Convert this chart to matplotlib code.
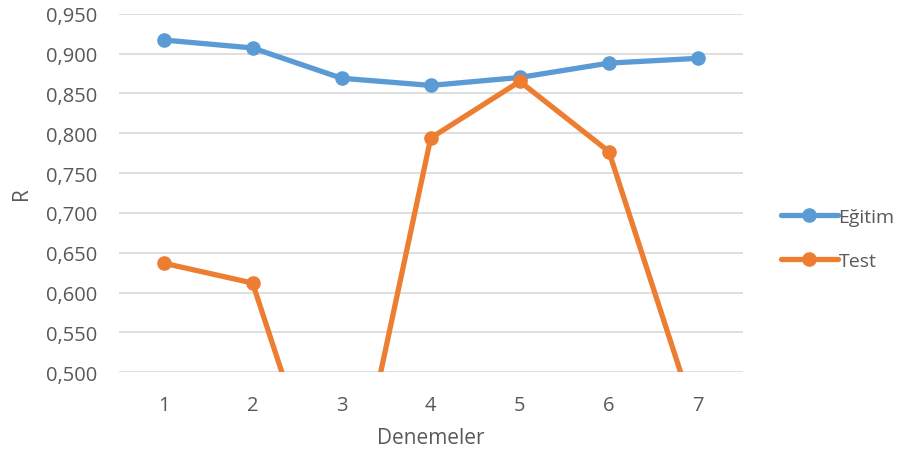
import matplotlib
matplotlib.use("Agg")
import matplotlib.pyplot as plt
from matplotlib.ticker import FuncFormatter, MultipleLocator

denemeler = [1, 2, 3, 4, 5, 6, 7]
egitim = [0.917, 0.907, 0.869, 0.860, 0.870, 0.888, 0.894]
test = [0.637, 0.612, 0.271, 0.794, 0.865, 0.777, 0.433]

plt.rcParams['font.family'] = ['Open Sans', 'DejaVu Sans']

fig = plt.figure(figsize=(9.06, 4.64), dpi=100)
ax = fig.add_axes([119/906, 1-373.3/464, (742.5-119)/906, (373.3-14.7)/464])

ax.plot(denemeler, egitim, color='#5B9BD5', lw=3.8, marker='o', ms=9.5,
        label='Eğitim', solid_capstyle='round', zorder=3)
ax.plot(denemeler, test, color='#ED7D31', lw=3.8, marker='o', ms=9.5,
        label='Test', solid_capstyle='round', zorder=3)

ax.set_xlim(0.5, 7.5)
ax.set_ylim(0.5, 0.95)
ax.set_xticks(denemeler)
ax.yaxis.set_major_locator(MultipleLocator(0.05))
ax.yaxis.set_major_formatter(FuncFormatter(lambda v, p: f"{v:.3f}".replace('.', ',')))
ax.grid(axis='y', color='#D9D9D9', lw=1.2)
ax.set_axisbelow(True)
for s in ax.spines.values():
    s.set_visible(False)
ax.tick_params(length=0, labelsize=14.5, colors='#595959')
ax.tick_params(axis='x', pad=16)
ax.tick_params(axis='y', pad=16)

ax.set_xlabel('Denemeler', fontsize=15, color='#595959', labelpad=9)
ax.set_ylabel('R', fontsize=15, color='#595959', labelpad=10)

leg = ax.legend(loc='center left', bbox_to_anchor=(1.034, 0.372), frameon=False,
                fontsize=14, handlelength=2.9, handletextpad=0.05, labelspacing=1.35)
for t in leg.get_texts():
    t.set_color('#595959')

fig.savefig('out.png', dpi=100)
